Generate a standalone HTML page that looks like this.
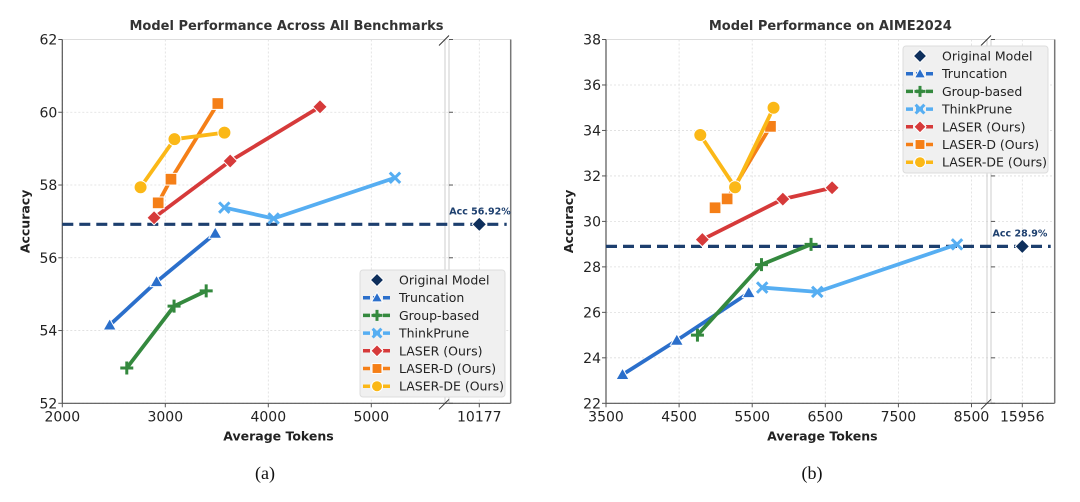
<!DOCTYPE html>
<html><head><meta charset="utf-8"><style>
body{margin:0;background:#fff;width:1080px;height:502px;overflow:hidden}
svg{display:block;font-family:"DejaVu Sans","Liberation Sans",sans-serif}
</style></head><body>
<svg id="s" width="1080" height="502"></svg>
<script>
const seriesNames=["Truncation","Group-based","ThinkPrune","LASER (Ours)","LASER-D (Ours)","LASER-DE (Ours)"];
const colors=["#2b6fcb","#34893e","#56aef2","#d63a3a","#f57f17","#fbb817"];
const markers=["tri","plus","x","diamond","square","circle"];
// chart a
const aX=[[2460,2915,3485],[2626,3085,3397],[3573,4052,5230],[2891,3630,4502],[2931,3055,3510],[2760,3089,3574]];
const aY=[[54.15,55.34,56.67],[52.97,54.67,55.09],[57.38,57.08,58.2],[57.1,58.66,60.15],[57.51,58.16,60.24],[57.94,59.26,59.44]];
const aOrigX=10177, aOrigY=56.92;
const aXTicks=[2000,3000,4000,5000];
const aYTicks=[52,54,56,58,60,62];
// chart b
const bX=[[3726,4469,5453],[4751,5627,6305],[5637,6390,8302],[4818,5919,6593],[4992,5157,5750],[4790,5266,5792]];
const bY=[[23.26,24.77,26.86],[25.0,28.1,28.99],[27.09,26.9,28.99],[29.2,30.98,31.48],[30.6,30.99,34.18],[33.8,31.5,35.0]];
const bOrigX=15956, bOrigY=28.9;
const bXTicks=[3500,4500,5500,6500,7500,8500];
const bYTicks=[22,24,26,28,30,32,34,36,38];

const NS="http://www.w3.org/2000/svg";
const svg=document.getElementById('s');
function mk(t,a,p,txt){const e=document.createElementNS(NS,t);for(const k in a)e.setAttribute(k,a[k]);if(txt!==undefined)e.textContent=txt;(p||svg).appendChild(e);return e;}

function marker(g,type,x,y,c,s){
 let e;
 if(type=="tri")e=mk('polygon',{points:`${x},${y-s} ${x-s},${y+s*0.75} ${x+s},${y+s*0.75}`,fill:c,stroke:'#fff','stroke-width':1},g);
 else if(type=="diamond")e=mk('polygon',{points:`${x},${y-s*1.1} ${x+s*1.1},${y} ${x},${y+s*1.1} ${x-s*1.1},${y}`,fill:c,stroke:'#fff','stroke-width':1},g);
 else if(type=="square")e=mk('rect',{x:x-s*0.9,y:y-s*0.9,width:s*1.8,height:s*1.8,fill:c,stroke:'#fff','stroke-width':1},g);
 else if(type=="circle")e=mk('circle',{cx:x,cy:y,r:s,fill:c,stroke:'#fff','stroke-width':1},g);
 else if(type=="plus")e=mk('path',{d:`M${x-s} ${y}H${x+s}M${x} ${y-s}V${y+s}`,stroke:c,'stroke-width':3},g);
 else e=mk('path',{d:`M${x-s*0.8} ${y-s*0.8}L${x+s*0.8} ${y+s*0.8}M${x-s*0.8} ${y+s*0.8}L${x+s*0.8} ${y-s*0.8}`,stroke:c,'stroke-width':3},g);
 return e;
}

function chart(cfg){
 const {L,T,B,brk,R,x0,pxPer,yMin,yMax,xs,ys,ox,oy,xt,yt,origPx,title,acc,accX,legX,legY,name}=cfg;
 const g=mk('g',{},svg);
 const sx=v=>L+(v-x0)*pxPer/1000;
 const sy=v=>B-(v-yMin)/(yMax-yMin)*(B-T);
 xt.forEach(v=>mk('line',{x1:sx(v),x2:sx(v),y1:T,y2:B,stroke:'#ddd','stroke-dasharray':'2,2','stroke-width':0.8},g));
 mk('line',{x1:origPx,x2:origPx,y1:T,y2:B,stroke:'#ddd','stroke-dasharray':'2,2','stroke-width':0.8},g);
 yt.forEach(v=>mk('line',{x1:L,x2:R,y1:sy(v),y2:sy(v),stroke:'#ddd','stroke-dasharray':'2,2','stroke-width':0.8},g));
 mk('line',{x1:L,x2:brk,y1:T,y2:T,stroke:'#ddd'},g);
 mk('line',{x1:brk+4,x2:R,y1:T,y2:T,stroke:'#ddd'},g);
 mk('line',{x1:brk,x2:brk,y1:T,y2:B,stroke:'#ccc'},g);
 mk('line',{x1:brk+4,x2:brk+4,y1:T,y2:B,stroke:'#ccc'},g);
 mk('line',{x1:L,x2:L,y1:T,y2:B,stroke:'#555','stroke-width':1.2},g);
 mk('line',{x1:L,x2:R,y1:B,y2:B,stroke:'#555','stroke-width':1.2},g);
 mk('line',{x1:R,x2:R,y1:T,y2:B,stroke:'#777','stroke-width':1.5},g);
 mk('path',{d:`M${brk-6} ${T+6}L${brk+4} ${T-4}M${brk-6} ${B+6}L${brk+4} ${B-4}`,stroke:'#333','stroke-width':1},g);
 yt.forEach(v=>{mk('line',{x1:L-4,x2:L,y1:sy(v),y2:sy(v),stroke:'#555'},g);
  mk('line',{x1:brk+4,x2:brk+8,y1:sy(v),y2:sy(v),stroke:'#555'},g);
  const t=mk('text',{x:L-5,y:sy(v)+5,'text-anchor':'end','font-size':14,fill:'#222'},g,v);});
 xt.forEach(v=>{mk('line',{x1:sx(v),x2:sx(v),y1:B,y2:B+4,stroke:'#555'},g);
  const t=mk('text',{x:sx(v),y:B+18,'text-anchor':'middle','font-size':14,fill:'#222'},g,v);});
 mk('line',{x1:origPx,x2:origPx,y1:B,y2:B+4,stroke:'#555'},g);
 const ot=mk('text',{x:origPx,y:B+18,'text-anchor':'middle','font-size':14,fill:'#222'},g,ox);
 const tt=mk('text',{x:(L+R)/2,y:30,'text-anchor':'middle','font-size':13,'font-weight':'bold',fill:'#333'},g,title);
 const xl=mk('text',{x:(L+R)/2-8,y:B+37,'text-anchor':'middle','font-size':12.5,'font-weight':'bold',fill:'#222'},g,'Average Tokens');
 const yl=mk('text',{x:0,y:0,transform:`translate(${L-33},${(T+B)/2}) rotate(-90)`,'text-anchor':'middle','font-size':12.5,'font-weight':'bold',fill:'#222'},g,'Accuracy');
 const bl=mk('line',{x1:L,x2:R-4,y1:sy(oy),y2:sy(oy),stroke:'#1d3f6e','stroke-width':3.2,'stroke-dasharray':'11,6'},g);
 const at=mk('text',{x:accX,y:sy(oy)-10,'text-anchor':'middle','font-size':9.5,'font-weight':'bold',fill:'#1d3f6e'},g,acc);
 xs.forEach((arr,i)=>{
  const pts=arr.map((v,j)=>[sx(v),sy(ys[i][j])]);
  const p=mk('polyline',{points:pts.map(p=>p.join(',')).join(' '),fill:'none',stroke:colors[i],'stroke-width':3.8,'stroke-linejoin':'round'},g);
  
  pts.forEach(q=>{const m=marker(g,markers[i],q[0],q[1],colors[i],6.5);});
 });
 const om=marker(g,'diamond',origPx,sy(oy),'#0e2f5c',6.5);
 const lg=mk('g',{},g);
 mk('rect',{x:legX,y:legY,width:145,height:127,rx:3,fill:'#f0f0f0',stroke:'#ddd'},lg);
 const names=["Original Model"].concat(seriesNames);
 names.forEach((n,k)=>{
  const y=legY+10+k*17.7, mx=legX+17;
  if(k==0)marker(lg,'diamond',mx,y,'#0e2f5c',6);
  else{mk('line',{x1:legX+3,x2:legX+31,y1:y,y2:y,stroke:colors[k-1],'stroke-width':3.5,'stroke-dasharray':'7,3'},lg);marker(lg,markers[k-1],mx,y,colors[k-1],5.5);}
  const t=mk('text',{x:legX+39,y:y+4.5,'font-size':12.5,fill:'#222'},lg,n);
 });
}
chart({name:'chart-a',L:62.3,T:39.5,B:403.3,brk:445,R:510.7,x0:2000,pxPer:103,yMin:52,yMax:62,xs:aX,ys:aY,ox:aOrigX,oy:aOrigY,xt:aXTicks,yt:aYTicks,origPx:479.3,title:'Model Performance Across All Benchmarks',acc:'Acc 56.92%',accX:480,legX:360,legY:270});
chart({name:'chart-b',L:606,T:39.5,B:403.3,brk:987,R:1054.7,x0:3500,pxPer:73.1,yMin:22,yMax:38,xs:bX,ys:bY,ox:bOrigX,oy:bOrigY,xt:bXTicks,yt:bYTicks,origPx:1022.3,title:'Model Performance on AIME2024',acc:'Acc 28.9%',accX:1020,legX:903,legY:46});
const ca=mk('text',{x:265,y:479,'text-anchor':'middle','font-size':18,'font-family':'Liberation Serif,serif',fill:'#111'},svg,'(a)');
const cb=mk('text',{x:812,y:479,'text-anchor':'middle','font-size':18,'font-family':'Liberation Serif,serif',fill:'#111'},svg,'(b)');
</script>
</body></html>
